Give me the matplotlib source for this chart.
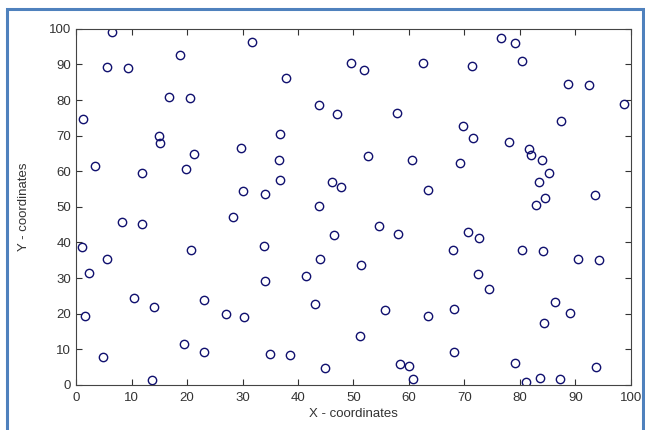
import matplotlib.pyplot as plt
from matplotlib.patches import Rectangle

plt.rcParams['font.family'] = ['Liberation Sans', 'DejaVu Sans']

# node positions
x = [6.4, 5.6, 9.4, 18.8, 16.8, 20.5, 1.3, 15.0, 15.2, 21.2, 3.4, 11.9, 19.8,
     31.7, 49.5, 51.9, 62.6, 37.8, 43.7, 47.1, 57.8, 36.8, 29.7, 36.6, 52.7,
     60.5, 36.8, 30.1, 34.1, 46.1, 47.7, 43.7, 28.2, 63.5,
     76.6, 79.2, 80.4, 71.3, 88.7, 92.4, 98.8, 87.5, 69.7, 71.5, 78.0, 81.7,
     82.0, 83.9, 85.2, 83.5, 84.5, 82.9, 69.2, 93.5,
     8.3, 11.9, 1.0, 20.7, 5.6, 2.4, 10.5, 14.0, 23.0, 1.6, 19.5, 23.1, 4.9, 13.6,
     54.6, 58.1, 46.5, 33.8, 43.9, 51.4, 34.1, 41.4, 43.0, 55.7, 63.5, 27.0,
     30.3, 51.2, 35.0, 38.6, 44.9, 58.4, 60.1, 60.8,
     70.7, 72.6, 67.9, 80.4, 84.1, 90.5, 94.2, 72.5, 74.4, 86.3, 89.1, 68.1,
     84.3, 68.1, 79.2, 93.8, 83.6, 87.3, 81.1]
y = [99.2, 89.2, 89.0, 92.7, 80.8, 80.5, 74.8, 69.9, 67.8, 64.7, 61.4, 59.4, 60.6,
     96.3, 90.3, 88.4, 90.5, 86.3, 78.5, 76.1, 76.3, 70.5, 66.4, 63.2, 64.3,
     63.1, 57.6, 54.4, 53.6, 57.0, 55.6, 50.1, 47.2, 54.7,
     97.5, 96.0, 91.0, 89.6, 84.6, 84.3, 79.0, 74.1, 72.8, 69.4, 68.2, 66.3,
     64.6, 63.2, 59.5, 57.0, 52.6, 50.4, 62.4, 53.3,
     45.6, 45.3, 38.7, 37.9, 35.3, 31.3, 24.3, 21.9, 23.9, 19.3, 11.6, 9.3, 7.9, 1.4,
     44.7, 42.4, 42.0, 39.1, 35.3, 33.6, 29.2, 30.7, 22.8, 21.1, 19.3, 19.9,
     19.0, 13.7, 8.7, 8.4, 4.6, 5.9, 5.2, 1.6,
     43.0, 41.2, 38.0, 38.0, 37.7, 35.4, 35.1, 31.0, 26.9, 23.4, 20.1, 21.3,
     17.5, 9.3, 6.1, 4.9, 2.0, 1.6, 0.9]

fig = plt.figure(figsize=(6.45, 4.30), dpi=100)
fig.patches.append(Rectangle((0.011, -0.01), 0.986, 0.99, transform=fig.transFigure,
                             fill=False, edgecolor='#4f81bd', linewidth=2.2))

ax = fig.add_axes([0.118, 0.105, 0.860, 0.828])
ax.plot(x, y, 'o', markersize=6, markerfacecolor='none',
        markeredgecolor='#10106e', markeredgewidth=1.0)

ax.set_xlim(0, 100)
ax.set_ylim(0, 100)
ax.set_xticks(range(0, 101, 10))
ax.set_yticks(range(0, 101, 10))
ax.tick_params(direction='in', top=True, right=True, labelsize=9.5,
               colors='#333333', length=4)
ax.tick_params(axis='x', pad=5)
for s in ax.spines.values():
    s.set_color('#444444')
ax.set_xlabel('X - coordinates', fontsize=9.5, color='#333333', labelpad=3)
ax.set_ylabel('Y - coordinates', fontsize=9.5, color='#333333', labelpad=14)

fig.savefig('out.png', dpi=100)
